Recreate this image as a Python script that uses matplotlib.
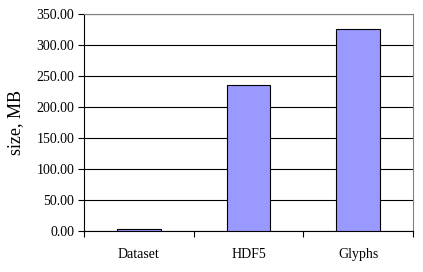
import matplotlib
matplotlib.use("Agg")
import matplotlib.pyplot as plt
import numpy as np

categories = ["Dataset", "HDF5", "Glyphs"]
sizes_mb = [3.0, 235.0, 326.0]
yticks = [0, 50, 100, 150, 200, 250, 300, 350]

plt.rcParams['font.family'] = ['Liberation Serif', 'DejaVu Serif']

fig = plt.figure(figsize=(4.23, 2.72), dpi=100)
ax = fig.add_axes([84/423, 1-231/272, (413-84)/423, (231-14)/272])

x = np.arange(len(categories))
ax.bar(x, sizes_mb, width=0.4, color="#9999FF", edgecolor="#000000", linewidth=0.8, zorder=3)
ax.set_xlim(-0.5, len(categories) - 0.5)
ax.set_ylim(0, 350)
ax.set_yticks(yticks)
ax.set_yticklabels([f"{v:.2f}" for v in yticks], fontsize=10)
ax.set_xticks(x)
ax.set_xticklabels(categories, fontsize=10)
ax.tick_params(axis='x', length=0, pad=12)
ax.set_xticks(np.arange(len(categories) + 1) - 0.5, minor=True)
ax.tick_params(axis='x', which='minor', length=4, width=0.8, direction='out')
ax.tick_params(axis='y', length=4, width=0.8, direction='out', pad=3)
ax.yaxis.grid(True, color="black", linewidth=0.8, zorder=0)
ax.set_axisbelow(True)
for s in ['top', 'right']:
    ax.spines[s].set_color("#808080")
    ax.spines[s].set_linewidth(0.8)
for s in ['left', 'bottom']:
    ax.spines[s].set_color("black")
    ax.spines[s].set_linewidth(0.8)
ax.set_ylabel("size, MB", fontsize=13, labelpad=9)

fig.savefig("out.png", dpi=100)
